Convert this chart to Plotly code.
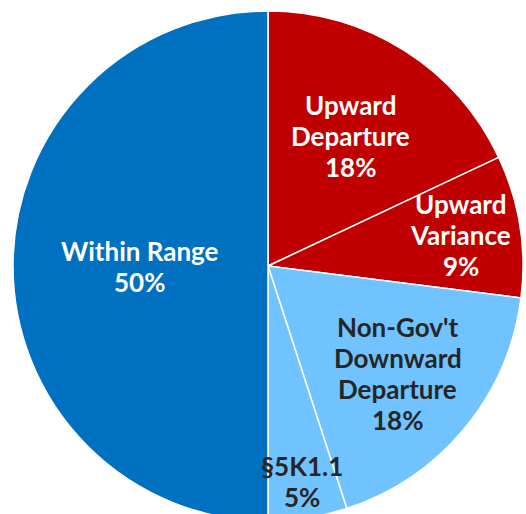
import math
import plotly.graph_objects as go

labels = ["Upward Departure", "Upward Variance", "Non-Gov't Downward Departure", "§5K1.1", "Within Range"]
values = [18, 9, 18, 5, 50]
label_lines = [["Upward", "Departure"], ["Upward", "Variance"], ["Non-Gov't", "Downward", "Departure"], ["§5K1.1"], ["Within Range"]]
colors = ["#C00000", "#C00000", "#70C3FF", "#70C3FF", "#0070C0"]
text_colors = ["white", "white", "#262626", "#262626", "white"]
radial_frac = [0.604, 0.765, 0.661, 0.857, 0.502]

W, H = 526, 532
cx, cy, r = 268, 266, 255
line_gap = 31
fsize = 26

fig = go.Figure(go.Pie(
    labels=labels, values=values, sort=False, direction="clockwise", rotation=0,
    marker=dict(colors=colors, line=dict(color="white", width=1.5)),
    textinfo="none", hoverinfo="label+percent", showlegend=False,
    domain=dict(x=[(cx - r) / W, (cx + r) / W], y=[(H - cy - r) / H, (H - cy + r) / H]),
))

total = sum(values)
cum = 0
annotations = []
for v, lines, tc, f in zip(values, label_lines, text_colors, radial_frac):
    theta = 2 * math.pi * (cum + v / 2) / total
    cum += v
    px = cx + f * r * math.sin(theta)
    py = cy - f * r * math.cos(theta)
    all_lines = lines + [f"{round(100 * v / total)}%"]
    n = len(all_lines)
    for i, t in enumerate(all_lines):
        ly = py + (i - (n - 1) / 2) * line_gap
        annotations.append(dict(
            x=px / W, y=1 - ly / H, xref="paper", yref="paper", text=t, showarrow=False,
            xanchor="center", yanchor="middle",
            font=dict(family="Lato", size=fsize, color=tc, weight="bold"),
        ))

fig.update_layout(
    width=W, height=H, autosize=False,
    margin=dict(l=0, r=0, t=0, b=0),
    paper_bgcolor="white", plot_bgcolor="white",
    annotations=annotations,
)
fig.write_html(
    "out.html",
    config={"displayModeBar": False},
    post_script="document.body.style.margin='0';document.body.style.overflow='hidden';document.documentElement.style.overflow='hidden';",
)
